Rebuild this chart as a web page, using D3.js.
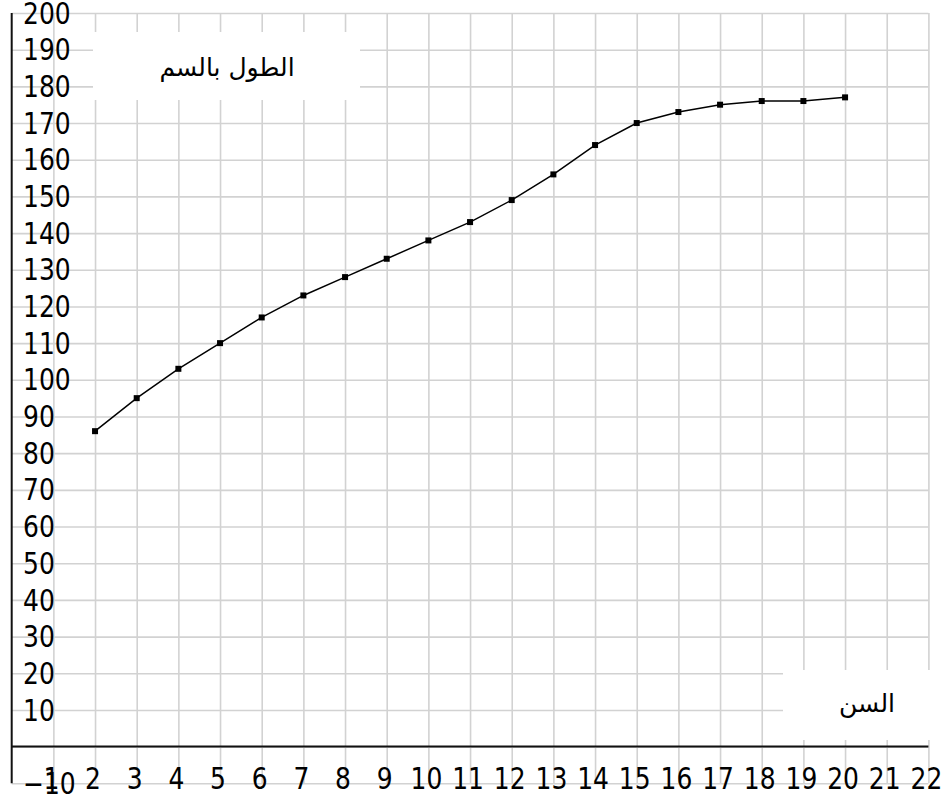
<!DOCTYPE html>
<html><head><meta charset="utf-8">
<script src="https://cdn.jsdelivr.net/npm/d3@7"></script>
<style>body{margin:0;background:#fff}svg{display:block}</style>
</head><body><svg id="c" width="951" height="800"></svg>
<script>
const ages = [2,3,4,5,6,7,8,9,10,11,12,13,14,15,16,17,18,19,20];
const heights = [86,95,103,110,117,123,128,133,138,143,149,156,164,170,173,175,176,176,177];
const xTickValues = [1,2,3,4,5,6,7,8,9,10,11,12,13,14,15,16,17,18,19,20,21,22];
const yTickValues = [200,190,180,170,160,150,140,130,120,110,100,90,80,70,60,50,40,30,20,10,-10];
const yTitle = "الطول بالسم";
const xTitle = "السن";

const svg = d3.select("#c");
const x = d3.scaleLinear().domain([0,22]).range([11.7, 928.4]);
const y = d3.scaleLinear().domain([-10,200]).range([783.3, 13]);
const gridColor = "#d2d2d2";

// vertical grid
svg.append("g").attr("transform",`translate(0,${y(-10)})`)
  .call(d3.axisBottom(x).tickValues(xTickValues).tickSize(-(y(-10)-y(200))).tickFormat(""))
  .call(g=>g.select(".domain").remove())
  .selectAll("line").attr("stroke",gridColor).attr("stroke-width",1.6);
// horizontal grid
svg.append("g").attr("transform",`translate(${x(0)},0)`)
  .call(d3.axisLeft(y).tickValues(d3.range(-10,201,10)).tickSize(-(x(22)-x(0))).tickFormat(""))
  .call(g=>g.select(".domain").remove())
  .selectAll("line").attr("stroke",gridColor).attr("stroke-width",1.6);

// title boxes
svg.append("rect").attr("x",93).attr("y",32).attr("width",267).attr("height",68).attr("fill","#fff");
svg.append("rect").attr("x",783).attr("y",670).attr("width",168).attr("height",70).attr("fill","#fff");
svg.append("text").attr("x",227).attr("y",76).attr("text-anchor","middle")
  .attr("font-family","DejaVu Sans").attr("font-size",25).attr("fill","#000").text(yTitle);
svg.append("text").attr("x",867).attr("y",712).attr("text-anchor","middle")
  .attr("font-family","DejaVu Sans").attr("font-size",25).attr("fill","#000").text(xTitle);

// axis lines
svg.append("line").attr("x1",x(0)).attr("x2",x(22)).attr("y1",y(0)).attr("y2",y(0))
  .attr("stroke","#111").attr("stroke-width",2);
svg.append("line").attr("x1",x(0)).attr("x2",x(0)).attr("y1",y(200)).attr("y2",y(-10))
  .attr("stroke","#111").attr("stroke-width",2);

// y labels
svg.append("g").selectAll("text").data(yTickValues).join("text")
  .attr("transform",d=>`translate(23,${y(d)}) scale(1,1.18)`)
  .attr("dy","0.36em").attr("font-family","DejaVu Sans").attr("font-size",25).attr("fill","#000")
  .text(d=> d<0 ? "\u2212"+Math.abs(d) : d);
// x labels
svg.append("g").selectAll("text").data(xTickValues).join("text")
  .attr("transform",d=>`translate(${x(d)-2},778) scale(1,1.18)`)
  .attr("dy","0.36em").attr("text-anchor","middle").attr("font-family","DejaVu Sans").attr("font-size",25).attr("fill","#000")
  .text(d=>d);

// data line
const pts = ages.map((a,i)=>[a,heights[i]]);
svg.append("path").datum(pts)
  .attr("d",d3.line().x(d=>x(d[0])).y(d=>y(d[1])))
  .attr("fill","none").attr("stroke","#000").attr("stroke-width",1.5);
svg.append("g").selectAll("rect").data(pts).join("rect")
  .attr("x",d=>x(d[0])-3).attr("y",d=>y(d[1])-3).attr("width",6).attr("height",6).attr("fill","#000");
</script></body></html>
